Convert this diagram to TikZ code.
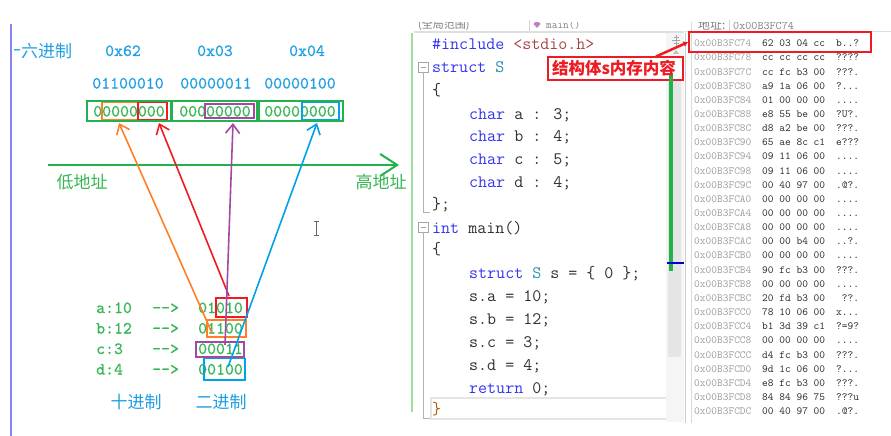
\documentclass[tikz,border=0pt]{standalone}
\usepackage{fontspec}
\newfontfamily\cjk{Noto Sans CJK SC}
\newfontfamily\dmono{lmmono10-regular.otf}[FakeBold=0.7]
\usetikzlibrary{arrows.meta}
\definecolor{lblue}{HTML}{1E9FE3}
\definecolor{pgreen}{HTML}{22B14C}
\definecolor{tgreen}{HTML}{35B653}
\definecolor{porange}{HTML}{FF7F27}
\definecolor{pred}{HTML}{ED1C24}
\definecolor{ppurple}{HTML}{A349A4}
\definecolor{pblue}{HTML}{00A2E8}
\definecolor{kw}{HTML}{3535F0}
\definecolor{ty}{HTML}{2B91AF}
\definecolor{strc}{HTML}{A84545}
\definecolor{codetxt}{HTML}{303030}
\definecolor{addr}{HTML}{A0A0A0}
\definecolor{leftline}{HTML}{8585F0}
\definecolor{margin}{HTML}{9BE09B}
\newcommand\kwd[1]{\textcolor{kw}{#1}}
\begin{document}
\begin{tikzpicture}[x=1pt,y=-1pt,
  lab/.style={inner sep=0, anchor=base, font=\dmono\fontsize{17}{20}\selectfont},
  labw/.style={inner sep=0, anchor=base west, font=\dmono\fontsize{17}{20}\selectfont},
  cjklab/.style={inner sep=0, font=\cjk\fontsize{17}{20}\selectfont},
  code/.style={inner sep=0, anchor=base west, text=codetxt, font=\ttfamily\fontsize{17.5}{20}\selectfont},
  mem/.style={inner sep=0, anchor=base west, font=\ttfamily\fontsize{10.9}{12}\selectfont},
  pbox/.style={line width=1.8pt},
  ptr/.style={line width=1.6pt, -{Straight Barb[length=9pt,width=14pt]}},
  hdr/.style={inner sep=0, anchor=base west, text=gray},
]
\fill[white] (0,0) rectangle (891,436);
\useasboundingbox (0,0) rectangle (891,436);

% ---------------- left diagram ----------------
\draw[leftline, line width=1.2pt] (11,24) -- (11,436);
\begin{scope}
  \clip (14,30) rectangle (120,70);
  \node[cjklab, text=lblue, anchor=west] (hexlab) at (4,51.5) {十六进制};
\end{scope}
\node[lab, text=lblue] (h1) at (123,56) {0x62};
\node[lab, text=lblue] (h2) at (215,56) {0x03};
\node[lab, text=lblue] (h3) at (307,56) {0x04};
\node[lab, text=lblue] (b1) at (128,88.5) {01100010};
\node[lab, text=lblue] (b2) at (216,88.5) {00000011};
\node[lab, text=lblue] (b3) at (300,88.5) {00000100};

\node[lab, text=tgreen] (m1) at (129,116.5) {00000000};
\node[lab, text=tgreen] (m2) at (215,116.5) {00000000};
\node[lab, text=tgreen] (m3) at (300,116.5) {00000000};
\draw[pgreen, pbox] (87,101) rectangle (171,121);
\draw[pgreen, pbox] (172,101) rectangle (257,121);
\draw[pgreen, pbox] (259,101) rectangle (343,121);
\draw[porange, pbox] (102,102.5) rectangle (138,119.5);
\draw[pred, pbox] (138,102.5) rectangle (167,119.5);
\draw[ppurple, pbox] (205,104) rectangle (254,118);
\draw[pblue, pbox] (302,102.5) rectangle (339,119.5);

% address axis
\coordinate (axL) at (48,165);
\coordinate (axR) at (399,165);
\draw[pgreen, line width=2pt, -{Straight Barb[length=17pt,width=22pt]}] (axL) -- (axR);
\node[cjklab, text=tgreen] (low) at (82,182) {低地址};
\node[cjklab, text=tgreen] (high) at (381,182) {高地址};

% bottom table
\node[labw, text=tgreen] (ta) at (96,313) {a:10};
\node[labw, text=tgreen] (tb) at (96,333.5) {b:12};
\node[labw, text=tgreen] (tc) at (96,354) {c:3};
\node[labw, text=tgreen] (td) at (96,374.5) {d:4};
\node[labw, text=tgreen] (aa) at (152,313) {-{}->};
\node[labw, text=tgreen] (ab) at (152,333.5) {-{}->};
\node[labw, text=tgreen] (ac) at (152,354) {-{}->};
\node[labw, text=tgreen] (ad) at (152,374.5) {-{}->};
\node[labw, text=tgreen] (va) at (198,313) {01010};
\node[labw, text=tgreen] (vb) at (198,333.5) {01100};
\node[labw, text=tgreen] (vc) at (198,354) {00011};
\node[labw, text=tgreen] (vd) at (198,374.5) {00100};
\draw[pred, pbox] (216,298) rectangle (247,317);
\draw[porange, pbox] (207,320) rectangle (246,337);
\draw[ppurple, pbox] (196,342) rectangle (244,357);
\draw[pblue, pbox] (204,358.5) rectangle (245,380);
\node[cjklab, text=lblue] (dec) at (136,402) {十进制};
\node[cjklab, text=lblue] (bin) at (221,402) {二进制};

% pointers
\coordinate (oS) at (212,333); \coordinate (oE) at (119,123);
\coordinate (rS) at (229,296); \coordinate (rE) at (159,123);
\coordinate (uS) at (225,345); \coordinate (uE) at (233,123);
\coordinate (bS) at (228,367); \coordinate (bE) at (317,123);
\draw[porange, ptr] (oS) -- (oE);
\draw[pred, ptr] (rS) -- (rE);
\draw[ppurple, ptr] (uS) -- (uE);
\draw[pblue, ptr] (bS) -- (bE);

% I-beam cursor
\draw[gray!80!black, line width=0.9pt] (316,222) -- (316,235) (313.5,221.5) -- (318.5,221.5) (313.5,235.5) -- (318.5,235.5);

% ---------------- editor ----------------
\begin{scope}
  \clip (414,23) rectangle (891,31);
  \node[hdr, font=\cjk\fontsize{11}{12}\selectfont] (scope1) at (418,29) {(全局范围)};
  \fill[ppurple!70] (537,20) -- (540.5,24) -- (537,28) -- (533.5,24) -- cycle;
  \node[hdr, font=\ttfamily\fontsize{11}{12}\selectfont] (fn) at (546,29) {main()};
  \node[hdr, font=\cjk\fontsize{12}{12}\selectfont] (addrlab) at (698,30) {地址:};
  \node[hdr, font=\ttfamily\fontsize{11.8}{12}\selectfont] (addrval) at (733,30) {0x00B3FC74};
\end{scope}
\draw[gray!35] (529,20) -- (529,31);
\draw[gray!35] (729,20) -- (729,31);
\draw[gray!25, line width=1.5pt] (414,32) -- (684,32);
\draw[gray!25] (685,31) -- (891,31);
\draw[margin, line width=2.5pt] (412,33) -- (412,412);

% outlining
\draw[gray!70, line width=0.8pt] (418,62) rectangle (428,72);
\draw[gray!70, line width=0.8pt] (420.5,67) -- (425.5,67);
\draw[gray!70, line width=0.8pt] (418,222) rectangle (428,232);
\draw[gray!70, line width=0.8pt] (420.5,227) -- (425.5,227);
\draw[gray!60, line width=1pt] (423,72) -- (423,212) -- (430,212);
\draw[gray!60, line width=1pt] (423,232) -- (423,418) -- (432,418);
\draw[gray!20, line width=2pt] (431,398) rectangle (667,419);

% code
\node[code] (c1) at (432,49) {\kwd{\#include} \textcolor{strc}{<stdio.h>}};
\node[code] (c2) at (432,73) {\kwd{struct} \textcolor{ty}{S}};
\node[code] (c3) at (432,95) {\{};
\node[code] (c4) at (469,119) {\kwd{char} a : 3;};
\node[code] (c5) at (469,141) {\kwd{char} b : 4;};
\node[code] (c6) at (469,164) {\kwd{char} c : 5;};
\node[code] (c7) at (469,187) {\kwd{char} d : 4;};
\node[code] (c8) at (432,209) {\};};
\node[code] (c9) at (432,233) {\kwd{int} main()};
\node[code] (c10) at (432,254) {\{};
\node[code] (c11) at (469,278) {\kwd{struct} \textcolor{ty}{S} s = \{ 0 \};};
\node[code] (c12) at (469,301) {s.a = 10;};
\node[code] (c13) at (469,324) {s.b = 12;};
\node[code] (c14) at (469,347) {s.c = 3;};
\node[code] (c15) at (469,370) {s.d = 4;};
\node[code] (c16) at (469,393) {\kwd{return} 0;};
\node[code, text=orange!70!black] (c17) at (432,414) {\}};

% scrollbar
\fill[gray!8] (666,33) rectangle (684,422);
\fill[gray!20] (668,58) rectangle (681,357);
\draw[gray!70, line width=0.8pt] (676,35) -- (676,46) (672,40.5) -- (680,40.5) (673.5,37.5) -- (678.5,37.5) (673.5,43.5) -- (678.5,43.5);
\fill[gray!50] (673,54) -- (679,54) -- (676,50) -- cycle;
\draw[gray!40] (685.5,33) -- (685.5,423);
\draw[gray!30] (691.5,22) -- (691.5,423);

% callout
\node[draw=pred, line width=1.5pt, fill=white, minimum width=135pt, minimum height=23pt, inner sep=0] (callout) at (615.5,68.5) {};
\draw[pgreen, line width=3.5pt] (671,73) -- (671,271);
\draw[blue!80!black, line width=1.8pt] (667,263) -- (684,263);
\node[inner sep=0, text=pred, font=\cjk\bfseries\fontsize{16.5}{18}\selectfont] (callouttxt) at (614,68.5) {结构体s内存内容};

% ---------------- memory ----------------
\node[draw=pred, line width=1.3pt, minimum width=182pt, minimum height=20pt, inner sep=0] (memsel) at (780,42) {};
\coordinate (cs) at (656,56.5);
\draw[pred, line width=2.5pt, -{Latex[length=5pt,width=6pt]}] (cs) -- (memsel.west);

\foreach \a/\b/\c [count=\i from 0] in {
74/62 03 04 cc/{b..?}, 78/cc cc cc cc/{????}, 7C/cc fc b3 00/{???.}, 80/a9 1a 06 00/{?...},
84/01 00 00 00/{....}, 88/e8 55 be 00/{?U?.}, 8C/d8 a2 be 00/{???.}, 90/65 ae 8c c1/{e???},
94/09 11 06 00/{....}, 98/09 11 06 00/{....}, 9C/00 40 97 00/{.@?.}, A0/00 00 00 00/{....},
A4/00 00 00 00/{....}, A8/00 00 00 00/{....}, AC/00 00 b4 00/{..?.}, B0/00 00 00 00/{....},
B4/90 fc b3 00/{???.}, B8/00 00 00 00/{....}, BC/20 fd b3 00/{\phantom{.}??.}, C0/78 10 06 00/{x...},
C4/b1 3d 39 c1/{?=9?}, C8/00 00 00 00/{....}, CC/d4 fc b3 00/{???.}, D0/9d 1c 06 00/{?...},
D4/e8 fc b3 00/{???.}, D8/84 84 96 75/{???u}, DC/00 40 97 00/{.@?.}}
{
  \node[mem, text=addr] (ma\i) at (694, 46.7+14.15*\i) {0x00B3FC\a};
  \node[mem, text=codetxt] (mb\i) at (762, 46.7+14.15*\i) {\b};
  \node[mem, text=codetxt] (mc\i) at (836, 46.7+14.15*\i) {\c};
}
\end{tikzpicture}
\end{document}
